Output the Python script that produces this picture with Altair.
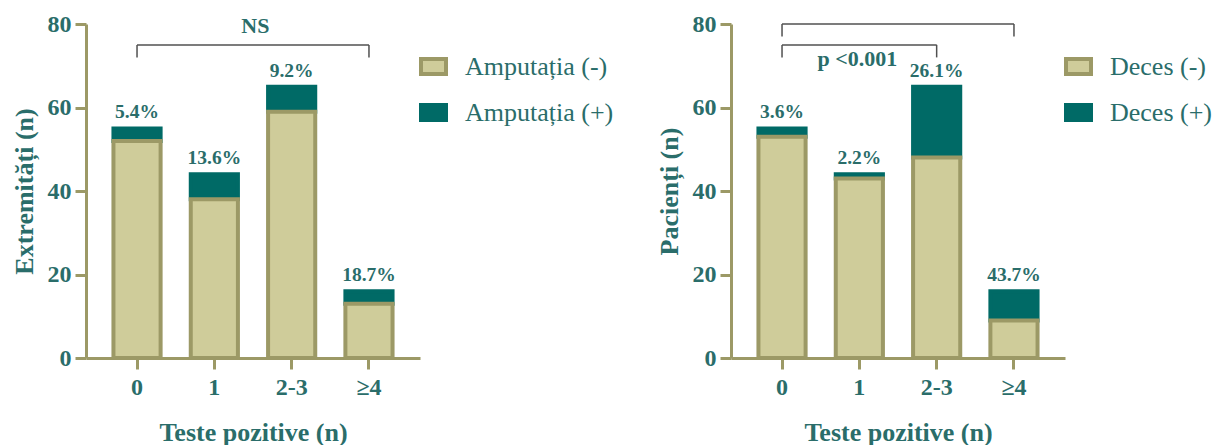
import altair as alt
import pandas as pd

# Categories: number of positive tests
categories = ["0", "1", "2-3", "≥4"]

# Left panel: limbs, amputation negative / positive
amp_neg = [52, 38, 59, 13]
amp_pos = [3, 6, 6, 3]
amp_pct = ["5.4%", "13.6%", "9.2%", "18.7%"]
amp_status = ["Amputația (-)", "Amputația (+)"]

# Right panel: patients, death negative / positive
dec_neg = [53, 43, 48, 9]
dec_pos = [2, 1, 17, 7]
dec_pct = ["3.6%", "2.2%", "26.1%", "43.7%"]
dec_status = ["Deces (-)", "Deces (+)"]

# Significance brackets: (from, to, level, drop-to)
amp_brackets = [("0", "≥4", 75, 72)]
dec_brackets = [("0", "≥4", 80, 77), ("0", "2-3", 75, 72)]
# Bracket notes: (category, value, text, dx)
amp_notes = [("1", 77.9, "NS", 41)]
dec_notes = [("1", 70, "p <0.001", -2)]
y_ticks = [0, 20, 40, 60, 80]

TEAL = "#006a66"
TAN = "#cfcc9a"
OLIVE = "#9c9966"
TEXT = "#2a6d6a"
BRACKET = "#505050"
FONT = "Liberation Serif"

X_TITLE = "Teste pozitive (n)"


def panel(neg, pos, pct, status, y_title, brackets, notes):
    xscale = alt.Scale(domain=categories, paddingInner=0.39, paddingOuter=0.355)
    yscale = alt.Scale(domain=[0, 80], nice=False)
    yaxis = alt.Axis(values=y_ticks)

    rows = []
    for c, p in zip(categories, pos):
        rows.append({"cat": c, "status": status[1], "count": p, "rank": 1})
    for c, n in zip(categories, neg):
        rows.append({"cat": c, "status": status[0], "count": n, "rank": 0})
    bars_df = pd.DataFrame(rows)

    legend = alt.Legend(
        title=None,
        orient="none",
        legendX=333,
        legendY=28,
        symbolType="M-1,-0.6H1V0.6H-1Z",
        symbolSize=625,
        symbolStrokeWidth=4,
        symbolOpacity=1,
        labelFont=FONT,
        labelFontSize=26,
        labelColor=TEXT,
        labelOffset=17,
        rowPadding=15,
        padding=0,
    )

    bars = alt.Chart(bars_df).mark_bar(strokeWidth=4, opacity=1).encode(
        x=alt.X("cat:N", sort=categories, scale=xscale, title=X_TITLE),
        y=alt.Y("count:Q", stack="zero", scale=yscale, axis=yaxis, title=y_title),
        fill=alt.Fill("status:N", scale=alt.Scale(domain=status, range=[TAN, TEAL]), legend=legend),
        stroke=alt.Stroke("status:N", scale=alt.Scale(domain=status, range=[OLIVE, TEAL]), legend=legend),
        order=alt.Order("rank:Q", sort="ascending"),
    )

    totals_df = pd.DataFrame({
        "cat": categories,
        "total": [n + p for n, p in zip(neg, pos)],
        "pct": pct,
    })
    labels = alt.Chart(totals_df).mark_text(
        baseline="alphabetic", dy=-10, font=FONT, fontSize=19.5, fontWeight="bold", color=TEXT
    ).encode(
        x=alt.X("cat:N", sort=categories, scale=xscale, title=X_TITLE),
        y=alt.Y("total:Q", scale=yscale, axis=yaxis, title=y_title),
        text="pct:N",
    )

    hb_df = pd.DataFrame({
        "a": [b[0] for b in brackets],
        "b": [b[1] for b in brackets],
        "lvl": [b[2] for b in brackets],
    })
    horiz = alt.Chart(hb_df).mark_rule(color=BRACKET, strokeWidth=1.5).encode(
        x=alt.X("a:N", sort=categories, scale=xscale, title=X_TITLE),
        x2="b:N",
        y=alt.Y("lvl:Q", scale=yscale, axis=yaxis, title=y_title),
    )

    vt_rows = []
    for a, b, lvl, low in brackets:
        vt_rows.append({"cat": a, "top": lvl, "low": low})
        vt_rows.append({"cat": b, "top": lvl, "low": low})
    vt = alt.Chart(pd.DataFrame(vt_rows)).mark_rule(color=BRACKET, strokeWidth=1.5).encode(
        x=alt.X("cat:N", sort=categories, scale=xscale, title=X_TITLE),
        y=alt.Y("top:Q", scale=yscale, axis=yaxis, title=y_title),
        y2="low:Q",
    )

    note_layers = []
    for c, v, t, dx in notes:
        nd = pd.DataFrame({"cat": [c], "v": [v], "t": [t]})
        note_layers.append(
            alt.Chart(nd).mark_text(
                baseline="alphabetic", dx=dx, font=FONT, fontSize=22, fontWeight="bold", color=TEXT
            ).encode(
                x=alt.X("cat:N", sort=categories, scale=xscale, title=X_TITLE),
                y=alt.Y("v:Q", scale=yscale, axis=yaxis, title=y_title),
                text="t:N",
            )
        )

    return alt.layer(bars, labels, horiz, vt, *note_layers).properties(width=334, height=334)


left = panel(amp_neg, amp_pos, amp_pct, amp_status, "Extremități (n)", amp_brackets, amp_notes)
right = panel(dec_neg, dec_pos, dec_pct, dec_status, "Pacienți (n)", dec_brackets, dec_notes)

chart = (
    alt.hconcat(left, right, spacing=42)
    .resolve_scale(fill="independent", stroke="independent", x="independent", y="independent")
    .resolve_legend(fill="independent", stroke="independent")
    .properties(padding={"left": 11, "top": 12, "right": 0, "bottom": 0})
    .configure(font=FONT)
    .configure_view(stroke=None)
    .configure_axis(
        domainColor=OLIVE,
        domainWidth=3,
        tickColor=OLIVE,
        tickWidth=3,
        tickSize=11,
        grid=False,
        labelFont=FONT,
        labelFontSize=24,
        labelFontWeight="bold",
        labelColor=TEXT,
        titleFont=FONT,
        titleFontSize=26,
        titleFontWeight="bold",
        titleColor=TEXT,
    )
    .configure_axisX(labelAngle=0, labelPadding=6, titlePadding=20)
    .configure_axisY(labelPadding=4, titlePadding=10)
)

chart.save("out.html", embed_options={"renderer": "svg", "actions": False})
